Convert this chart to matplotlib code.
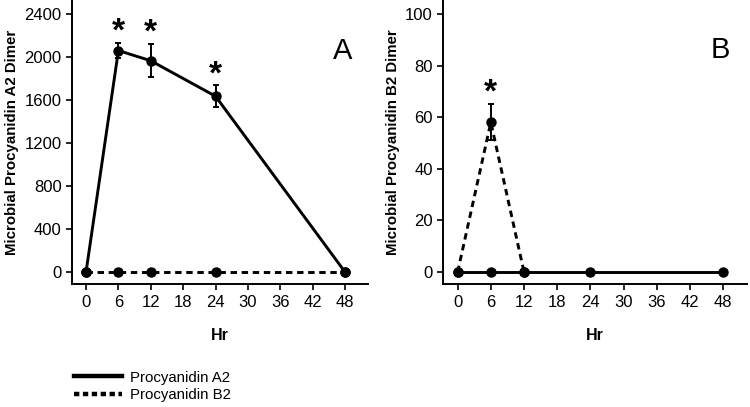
import numpy as np
import matplotlib.pyplot as plt
from matplotlib.lines import Line2D

plt.rcParams['font.family'] = ['Liberation Sans', 'DejaVu Sans']

hr = [0, 6, 12, 24, 48]

# panel A
a2_a = [0, 2060, 1965, 1635, 0]
a2_a_err = [0, 70, 155, 100, 0]
b2_a = [0, 0, 0, 0, 0]
stars_a = [6, 12, 24]

# panel B
b2_b = [0, 58, 0]
b2_b_err = [0, 7, 0]
hr_b2 = [0, 6, 12]
a2_b = [0, 0, 0, 0, 0]
stars_b = [6]

fig = plt.figure(figsize=(7.5, 4.07), dpi=100)
ax1 = fig.add_axes([0.096, 0.302, 0.395, 0.698])
ax2 = fig.add_axes([0.591, 0.302, 0.405, 0.698])

lw = 2.1
ms = 6.5

# A
ax1.plot(hr, b2_a, color='black', lw=lw, ls=(0, (2.2, 1.6)), marker='o', ms=ms)
ax1.errorbar(hr, a2_a, yerr=a2_a_err, color='black', lw=lw, marker='o', ms=ms,
             capsize=2, elinewidth=1.4, capthick=1.4)
for x in stars_a:
    i = hr.index(x)
    ax1.text(x, a2_a[i] + a2_a_err[i] + 100, '*', ha='center', va='center',
             fontsize=24, fontweight='bold')
ax1.text(47.5, 2060, 'A', ha='center', va='center', fontsize=21)
ax1.set_ylim(-112, 2530)
ax1.set_yticks(np.arange(0, 2401, 400))
ax1.set_ylabel('Microbial Procyanidin A2 Dimer', fontweight='bold', fontsize=10.8)

# B
ax2.errorbar(hr_b2, b2_b, yerr=b2_b_err, color='black', lw=lw, ls=(0, (2.2, 1.6)),
             marker='o', ms=ms, capsize=2, elinewidth=1.4, capthick=1.4)
ax2.plot(hr, a2_b, color='black', lw=lw, marker='o', ms=ms)
for x in stars_b:
    i = hr_b2.index(x)
    ax2.text(x, b2_b[i] + b2_b_err[i] + 4.3, '*', ha='center', va='center',
             fontsize=24, fontweight='bold')
ax2.text(47.5, 86, 'B', ha='center', va='center', fontsize=21)
ax2.set_ylim(-4.7, 105.4)
ax2.set_yticks(np.arange(0, 101, 20))
ax2.set_ylabel('Microbial Procyanidin B2 Dimer', fontweight='bold', fontsize=10.8)

for ax in (ax1, ax2):
    ax.set_xlim(-2.6, 52.3)
    ax.set_xticks(np.arange(0, 49, 6))
    ax.spines['top'].set_visible(False)
    ax.spines['right'].set_visible(False)
    ax.spines['left'].set_linewidth(1.4)
    ax.spines['bottom'].set_linewidth(1.4)
    ax.tick_params(labelsize=12, length=4, width=1.2, direction='out')
    ax.set_xlabel('Hr', fontweight='bold', fontsize=11.5, labelpad=13)

handles = [Line2D([], [], color='black', lw=3.2),
           Line2D([], [], color='black', lw=3.2, ls=(0, (1.2, 0.8)))]
fig.legend(handles, ['Procyanidin A2', 'Procyanidin B2'], loc='lower left',
           bbox_to_anchor=(0.08, -0.022), frameon=False, fontsize=10.8,
           handlelength=3.2, handletextpad=0.6, labelspacing=0.25)

fig.savefig('out.png', dpi=100)
